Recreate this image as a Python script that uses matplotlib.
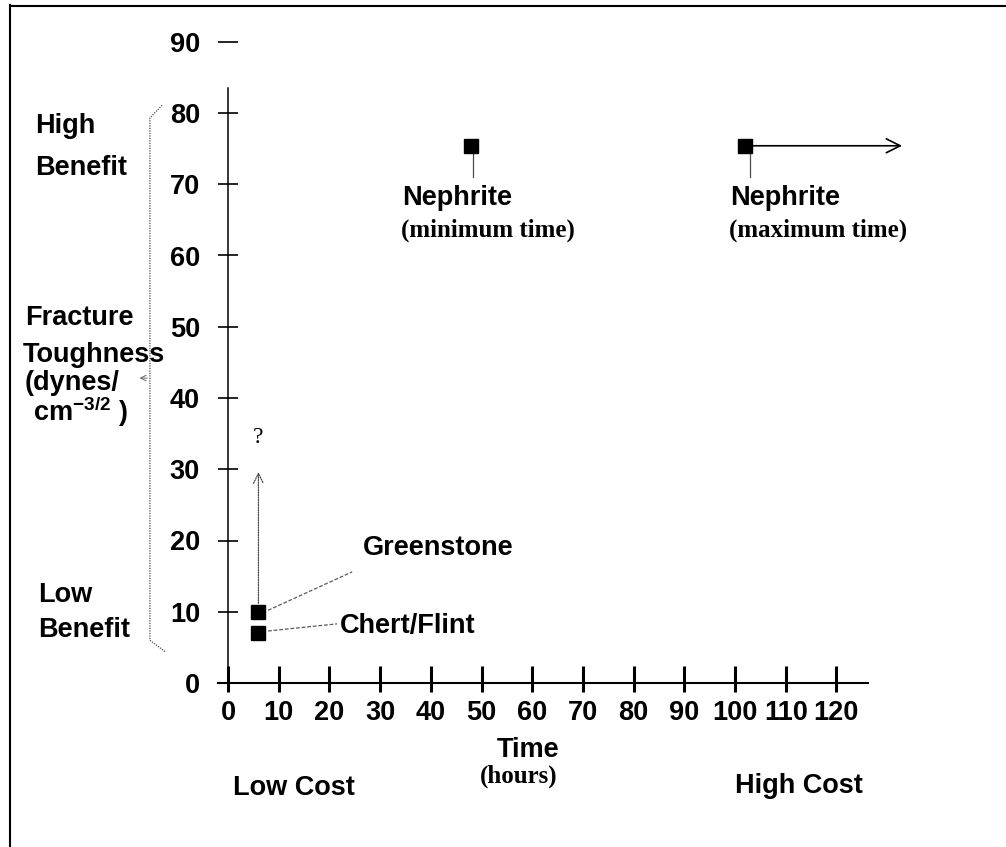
import matplotlib
matplotlib.use("Agg")
import matplotlib.pyplot as plt
from matplotlib.lines import Line2D

plt.rcParams["font.family"] = ["Liberation Sans", "DejaVu Sans"]
plt.rcParams["font.weight"] = "bold"
plt.rcParams["mathtext.fontset"] = "custom"
plt.rcParams["mathtext.rm"] = "Liberation Sans:bold"
plt.rcParams["mathtext.it"] = "Liberation Sans:bold"
plt.rcParams["mathtext.bf"] = "Liberation Sans:bold"

# data
stone_names = ["Greenstone", "Chert/Flint", "Nephrite", "Nephrite"]
stone_notes = ["", "", "(minimum time)", "(maximum time)"]
time_hours = [6, 6, 48, 102]
toughness = [10, 7, 75.4, 75.4]
greenstone_upper = 30        # dotted arrow up to "?"
nephrite_time_end = 133.5    # open-ended arrow for maximum time
x_ticks = list(range(0, 121, 10))
y_ticks = list(range(0, 91, 10))

W, H = 1006, 847
fig = plt.figure(figsize=(W / 100, H / 100), dpi=100)

# pixel geometry of the original: origin and pixels per unit
X0, Y0 = 228, 683
SX, SY = 5.07, 7.125
xlim = (-5, 140)
ylim = (-5, 95)
left = X0 + xlim[0] * SX
right = X0 + xlim[1] * SX
bottom = Y0 - ylim[0] * SY
top = Y0 - ylim[1] * SY
ax = fig.add_axes([left / W, (H - bottom) / H, (right - left) / W, (bottom - top) / H])
ax.set_xlim(*xlim)
ax.set_ylim(*ylim)
ax.patch.set_visible(False)


def fig_xy(px, py):
    return px / W, 1 - py / H


FS = 19.5

# axes / spines
for s in ["top", "right"]:
    ax.spines[s].set_visible(False)
ax.spines["left"].set_position(("data", 0))
ax.spines["bottom"].set_position(("data", 0))
ax.spines["left"].set_bounds(0, 83.5)
ax.spines["bottom"].set_bounds(-2, 126.2)
ax.spines["left"].set_linewidth(1.1)
ax.spines["bottom"].set_linewidth(1.5)

ax.set_xticks(x_ticks)
ax.set_xticks(x_ticks, minor=True)
ax.xaxis.remove_overlapping_locs = False
ax.set_xticklabels([str(t) for t in x_ticks])
ax.tick_params(axis="x", which="major", direction="in", length=12.2, width=2.2,
               pad=12, labelsize=FS)
ax.tick_params(axis="x", which="minor", direction="out", length=6.5, width=2.2,
               labelbottom=False)
ax.set_yticks(y_ticks)
ax.set_yticklabels([str(t) for t in y_ticks])
ax.tick_params(axis="y", direction="inout", length=13.7, width=1.2, pad=13.3,
               labelsize=FS)
for lab in ax.get_xticklabels() + ax.get_yticklabels():
    lab.set_fontweight("bold")

# points
ax.plot(time_hours, toughness, "s", color="black", markersize=10.5, zorder=5)

# greenstone / chert labels with leader lines
ax.plot([time_hours[0] + 1.9, 24.5], [toughness[0] + 0.2, 15.6],
        ls=(0, (3, 1.5)), color="0.35", lw=0.9)
ax.text(26.6, 18.0, stone_names[0], fontsize=FS, fontweight="bold",
        ha="left", va="baseline")
ax.plot([time_hours[1] + 1.9, 21.5], [toughness[1] + 0.3, 8.3],
        ls=(0, (3, 1.5)), color="0.35", lw=0.9)
ax.text(22.1, 7.0, stone_names[1], fontsize=FS, fontweight="bold",
        ha="left", va="baseline")

# dotted arrow up to the question mark
ax.annotate("", xy=(time_hours[0], greenstone_upper),
            xytext=(time_hours[0], toughness[0] + 0.8),
            arrowprops=dict(arrowstyle="->", color="0.3", lw=0.9,
                            linestyle=(0, (1, 1)), mutation_scale=18))
ax.text(time_hours[0], 34.5, "?", fontsize=17, family="Liberation Serif",
        fontweight="normal", ha="center", va="center")

# nephrite labels
neph_label_x = [34.3, 99.0]
for i, lx in zip([2, 3], neph_label_x):
    lead_x = time_hours[i] + (0.3 if i == 2 else 1.0)
    ax.plot([lead_x, lead_x], [toughness[i] - 1.1, 71.0], color="0.3", lw=0.9)
    ax.text(lx, 67.1, stone_names[i], fontsize=FS, fontweight="bold",
            ha="left", va="baseline")
    ax.text(lx - 0.2, 62.7, stone_notes[i], fontsize=18,
            family="Liberation Serif", fontweight="bold", ha="left", va="baseline")

ax.annotate("", xy=(nephrite_time_end, toughness[3]),
            xytext=(time_hours[3], toughness[3]),
            arrowprops=dict(arrowstyle="->", color="black", lw=1.2,
                            mutation_scale=25), zorder=4)

# bracket along the y axis labels
ax.plot([-13.0, -15.4, -15.4, -12.4], [81.1, 79.3, 6.0, 4.4],
        ls=(0, (1, 1)), color="0.3", lw=0.9, clip_on=False)
ax.annotate("", xy=(-18.0, 42.8), xytext=(-15.4, 42.8),
            arrowprops=dict(arrowstyle="->", color="0.4", lw=0.7, mutation_scale=10),
            annotation_clip=False)

# side labels (y axis)
side_lines = [("High", 35, 133), ("Benefit", 35, 175),
              ("Fracture", 25, 325), ("Toughness", 23, 362),
              ("(dynes/", 25, 390), (r"cm$^{-3/2}$ )", 33, 421),
              ("Low", 38, 602), ("Benefit", 38, 637)]
for txt, px, py in side_lines:
    fig.text(*fig_xy(px, py), txt, fontsize=FS, fontweight="bold",
             ha="left", va="baseline")

# bottom labels (x axis)
fig.text(*fig_xy(497, 757), "Time", fontsize=FS, fontweight="bold",
         ha="left", va="baseline")
fig.text(*fig_xy(480, 783), "(hours)", fontsize=18, family="Liberation Serif",
         fontweight="bold", ha="left", va="baseline")
fig.text(*fig_xy(233, 795), "Low Cost", fontsize=FS, fontweight="bold",
         ha="left", va="baseline")
fig.text(*fig_xy(735, 793), "High Cost", fontsize=FS, fontweight="bold",
         ha="left", va="baseline")

# frame of the original figure
fig.add_artist(Line2D([10 / W, 10 / W], [0, 1 - 5 / H], color="black", lw=1.5))
fig.add_artist(Line2D([10 / W, 1], [1 - 6 / H, 1 - 6 / H], color="black", lw=1.5))

fig.savefig("out.png", dpi=100)
